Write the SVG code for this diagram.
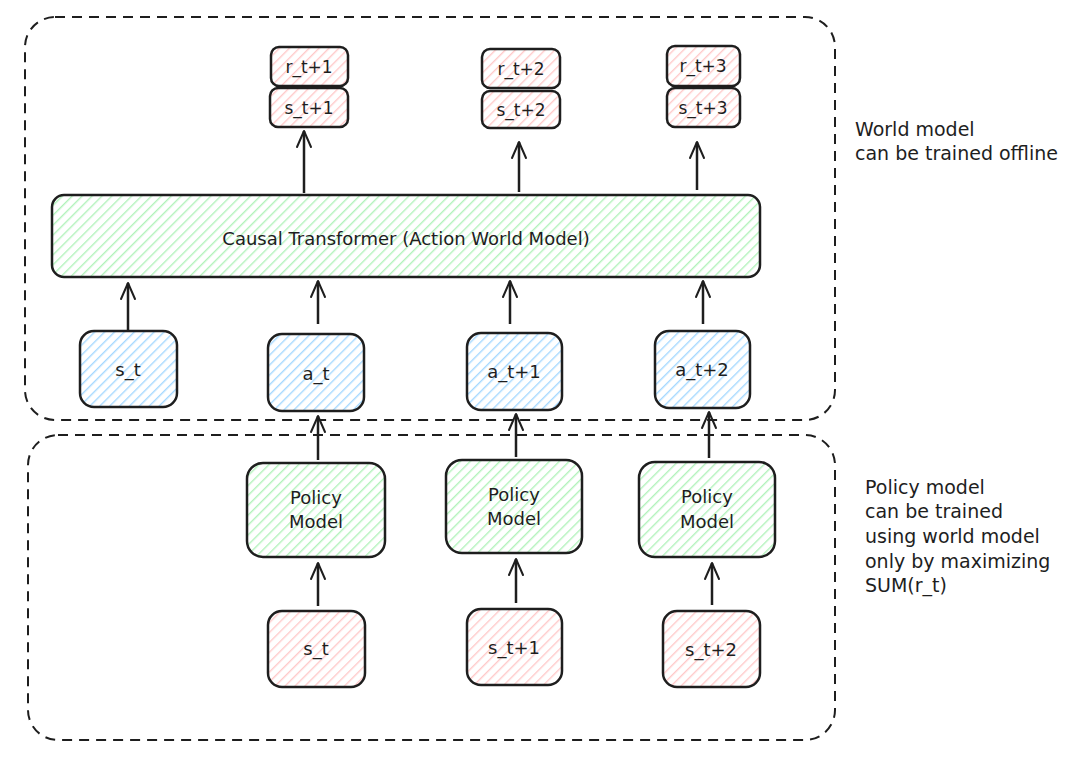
<svg xmlns="http://www.w3.org/2000/svg" width="1069" height="761" viewBox="0 0 1069 761">
<defs>
<pattern id="hPink" patternUnits="userSpaceOnUse" width="7" height="7" patternTransform="rotate(45)"><line x1="0" y1="0" x2="0" y2="7" stroke="#ffc9c9" stroke-width="2.8"/></pattern>
<pattern id="hGreen" patternUnits="userSpaceOnUse" width="7" height="7" patternTransform="rotate(45)"><line x1="0" y1="0" x2="0" y2="7" stroke="#b2f2bb" stroke-width="2.8"/></pattern>
<pattern id="hBlue" patternUnits="userSpaceOnUse" width="7" height="7" patternTransform="rotate(45)"><line x1="0" y1="0" x2="0" y2="7" stroke="#a5d8ff" stroke-width="2.8"/></pattern>
<marker id="arr" viewBox="0 0 20 20" refX="18" refY="10" markerWidth="20" markerHeight="20" markerUnits="userSpaceOnUse" orient="auto"><path d="M2,3 L18,10 L2,17" fill="none" stroke="#1e1e1e" stroke-width="2" stroke-linecap="round" stroke-linejoin="round"/></marker>
</defs>
<style>
.box{stroke:#1e1e1e;stroke-width:2.5}
.pink{fill:url(#hPink)}
.green{fill:url(#hGreen)}
.blue{fill:url(#hBlue)}
.frame{fill:none;stroke:#1e1e1e;stroke-width:2;stroke-dasharray:10 7}
.t{font-family:"DejaVu Sans","Liberation Sans",sans-serif;font-size:17px;fill:#1e1e1e;text-anchor:middle;dominant-baseline:central}
.big{font-size:18px}
.note{font-family:"DejaVu Sans","Liberation Sans",sans-serif;font-size:19px;fill:#1e1e1e}
.conn line{stroke:#1e1e1e;stroke-width:2.5;marker-end:url(#arr)}
</style>
<rect width="1069" height="761" fill="#ffffff"/>
<g id="world-frame"><rect class="frame" x="25" y="17" width="810" height="403" rx="30"/></g>
<g id="policy-frame"><rect class="frame" x="28" y="435" width="807" height="305" rx="30"/></g>

<g id="r1"><rect class="box pink" x="271" y="47" width="77" height="39" rx="8"/><text class="t" x="309" y="67">r_t+1</text></g>
<g id="s1o"><rect class="box pink" x="270" y="88" width="78" height="39" rx="8"/><text class="t" x="309" y="108">s_t+1</text></g>
<g id="r2"><rect class="box pink" x="482" y="49" width="78" height="39" rx="8"/><text class="t" x="521" y="69">r_t+2</text></g>
<g id="s2o"><rect class="box pink" x="482" y="91" width="78" height="37" rx="8"/><text class="t" x="521" y="110">s_t+2</text></g>
<g id="r3"><rect class="box pink" x="667" y="46" width="73" height="40" rx="8"/><text class="t" x="703" y="66">r_t+3</text></g>
<g id="s3o"><rect class="box pink" x="667" y="88" width="73" height="39" rx="8"/><text class="t" x="703" y="108">s_t+3</text></g>

<g id="transformer"><rect class="box green" x="52" y="195" width="708" height="82" rx="12"/><text class="t big" x="406" y="238">Causal Transformer (Action World Model)</text></g>

<g id="st-in"><rect class="box blue" x="80" y="331" width="97" height="76" rx="14"/><text class="t big" x="128" y="369">s_t</text></g>
<g id="at"><rect class="box blue" x="268" y="334" width="96" height="77" rx="14"/><text class="t big" x="316" y="373">a_t</text></g>
<g id="at1"><rect class="box blue" x="467" y="333" width="95" height="77" rx="14"/><text class="t big" x="514" y="371">a_t+1</text></g>
<g id="at2"><rect class="box blue" x="655" y="331" width="95" height="77" rx="14"/><text class="t big" x="702" y="369">a_t+2</text></g>

<g id="pm1"><rect class="box green" x="247" y="463" width="138" height="94" rx="16"/><text class="t big" x="316" y="497">Policy</text><text class="t big" x="316" y="521">Model</text></g>
<g id="pm2"><rect class="box green" x="446" y="460" width="136" height="93" rx="16"/><text class="t big" x="514" y="494">Policy</text><text class="t big" x="514" y="518">Model</text></g>
<g id="pm3"><rect class="box green" x="639" y="462" width="136" height="95" rx="16"/><text class="t big" x="707" y="496">Policy</text><text class="t big" x="707" y="521">Model</text></g>

<g id="s0"><rect class="box pink" x="268" y="611" width="97" height="76" rx="14"/><text class="t big" x="316" y="648">s_t</text></g>
<g id="s1"><rect class="box pink" x="467" y="609" width="95" height="76" rx="14"/><text class="t big" x="514" y="647">s_t+1</text></g>
<g id="s2"><rect class="box pink" x="663" y="611" width="97" height="76" rx="14"/><text class="t big" x="711" y="649">s_t+2</text></g>

<g id="note-world"><text class="note" x="855" y="136">World model</text><text class="note" x="855" y="160">can be trained offline</text></g>
<g id="note-policy"><text class="note" x="865" y="494">Policy model</text><text class="note" x="865" y="518">can be trained</text><text class="note" x="865" y="543">using world model</text><text class="note" x="865" y="568">only by maximizing</text><text class="note" x="865" y="592">SUM(r_t)</text></g>

<g id="connectors" class="conn">
<line x1="304" y1="193" x2="304" y2="131"/>
<line x1="519" y1="192" x2="519" y2="142"/>
<line x1="697" y1="190" x2="697" y2="142"/>
<line x1="128" y1="330" x2="128" y2="283"/>
<line x1="318" y1="324" x2="318" y2="281"/>
<line x1="510" y1="324" x2="510" y2="281"/>
<line x1="703" y1="324" x2="703" y2="281"/>
<line x1="318" y1="460" x2="318" y2="416"/>
<line x1="516" y1="457" x2="516" y2="414"/>
<line x1="709" y1="458" x2="709" y2="412"/>
<line x1="318" y1="606" x2="318" y2="563"/>
<line x1="516" y1="603" x2="516" y2="559"/>
<line x1="712" y1="605" x2="712" y2="563"/>
</g>
</svg>
